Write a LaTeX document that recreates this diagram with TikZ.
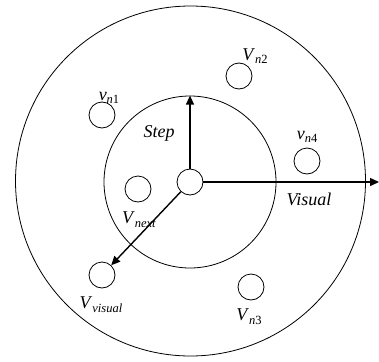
\documentclass[tikz,border=0pt]{standalone}
\usepackage{fontspec}
\setmainfont{Liberation Serif}
\usetikzlibrary{arrows.meta}
\newcommand\vlab[2]{\textit{#1}\raisebox{-0.45ex}{\fontsize{12.5}{12.5}\selectfont #2}}
\tikzset{
  ring/.style={draw, circle, line width=0.8pt, inner sep=0pt},
  pt/.style={draw, circle, line width=0.8pt, minimum size=26pt, inner sep=0pt, fill=white},
  lab/.style={inner sep=0pt, font=\fontsize{18}{20}\selectfont},
  arr/.style={line width=1.4pt, -{Triangle[length=9pt,width=8pt]}}
}
\begin{document}
\begin{tikzpicture}[x=1pt,y=-1pt]
\useasboundingbox (0,0) rectangle (379,361);
\node[ring, minimum size=350pt] (outer) at (190.5,181) {};
\node[ring, minimum size=172pt] (inner) at (190,182) {};
\node[pt] (c) at (190,182) {};
\node[pt] (n1) at (102,115) {};
\node[pt] (n2) at (239,76) {};
\node[pt] (n4) at (307,161) {};
\node[pt] (nx) at (138,189) {};
\node[pt] (vv) at (102,275) {};
\node[pt] (n3) at (251,287) {};
\coordinate (r) at (379,182);
\draw[arr] (c) -- (inner.north);
\draw[arr] (c) -- (r);
\draw[arr] (c) -- (vv);
\node[lab] (ln1) at (109,98) {\vlab{v}{\textit{n}1}};
\node[lab] (ln2) at (255,56) {\vlab{V}{\textit{n}2}};
\node[lab] (ln4) at (307,137) {\vlab{v}{\textit{n}4}};
\node[lab] (lnx) at (139,220) {\vlab{V}{\textit{next}}};
\node[lab] (lvv) at (101,305) {\vlab{V}{\textit{visual}}};
\node[lab] (ln3) at (249,317) {\vlab{V}{\textit{n}3}};
\node[lab] (step) at (159,133) {\textit{Step}};
\node[lab] (vis) at (309,199) {\textit{Visual}};
\end{tikzpicture}
\end{document}
